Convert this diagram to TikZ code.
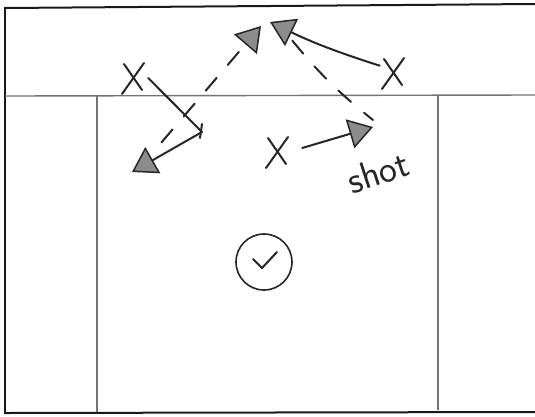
\documentclass[tikz,border=0pt]{standalone}
\usetikzlibrary{arrows.meta}
\begin{document}
\begin{tikzpicture}[x=1pt,y=-1pt,
  pen/.style={draw=black!85, line width=2pt, line cap=round},
  court/.style={draw=black!55, line width=1.4pt},
  border/.style={draw=black!90, line width=2pt},
  head/.style={-{Triangle[length=24pt,width=30pt,fill=black!45,line width=1.5pt]}},
  passdash/.style={dash pattern=on 17pt off 17pt},
  player/.style={circle, minimum size=26pt, inner sep=0pt},
  pics/cross/.style={code={
    \draw[pen] (-9,-14) -- (9,12);
    \draw[pen] (11,-15) -- (-11,16);
  }}]
\useasboundingbox (0,0) rectangle (535,416);

% court outline
\draw[border] (5,8) -- (535,4);
\draw[border] (5,7) -- (5,414);
\draw[border] (5,413) -- (535,412);
\draw[court] (5,96) -- (535,95);
\draw[court] (97,96) -- (97,412);
\draw[court] (438,95) -- (438,410);

% players
\node[player] (xL) at (133,78) {};
\node[player] (xR) at (393,73) {};
\node[player] (xM) at (277,152) {};
\pic at (xL) {cross};
\pic at (xR) {cross};
\pic at (xM) {cross};

% path points
\coordinate (cut) at (202,132);
\coordinate (tipL) at (132,172);
\coordinate (tipTop) at (270,22);
\coordinate (tipUp) at (261,26);
\coordinate (tipShot) at (373,127);
\coordinate (lowL) at (155,150);
\coordinate (topR) at (291,39);
\coordinate (shotEnd) at (373,120);

% cut from the left wing, then to the corner
\draw[pen] (xL.east) ++(2,0) -- (cut);
\draw[pen] (cut) ++(0,-8) -- ++(-2,14);
\draw[pen, head] (cut) -- (tipL);

% pass back up top
\draw[pen, passdash, dash phase=-10pt, head] (lowL) -- (tipUp);

% right wing cut to the top
\draw[pen, head] (xR.north west) ++(-4,2) to[bend left=4] (tipTop);

% dive from the top to the shot spot
\draw[pen, passdash, dash phase=-2pt] (topR) to[bend right=6] (shotEnd);

% pass to the shooter
\draw[pen, head] (xM.east) ++(12,-4) -- (tipShot);

\node[rotate=18, font=\sffamily\fontsize{38}{38}\selectfont, text=black!85] (shot) at (378,172) {shot};

% check mark in a circle
\node[circle, draw=black!85, line width=1.6pt, minimum width=56pt, minimum height=54pt, inner sep=0pt] (ok) at (264,262) {};
\draw[pen] (253,259) -- (262,268) -- (277,252);
\end{tikzpicture}
\end{document}
